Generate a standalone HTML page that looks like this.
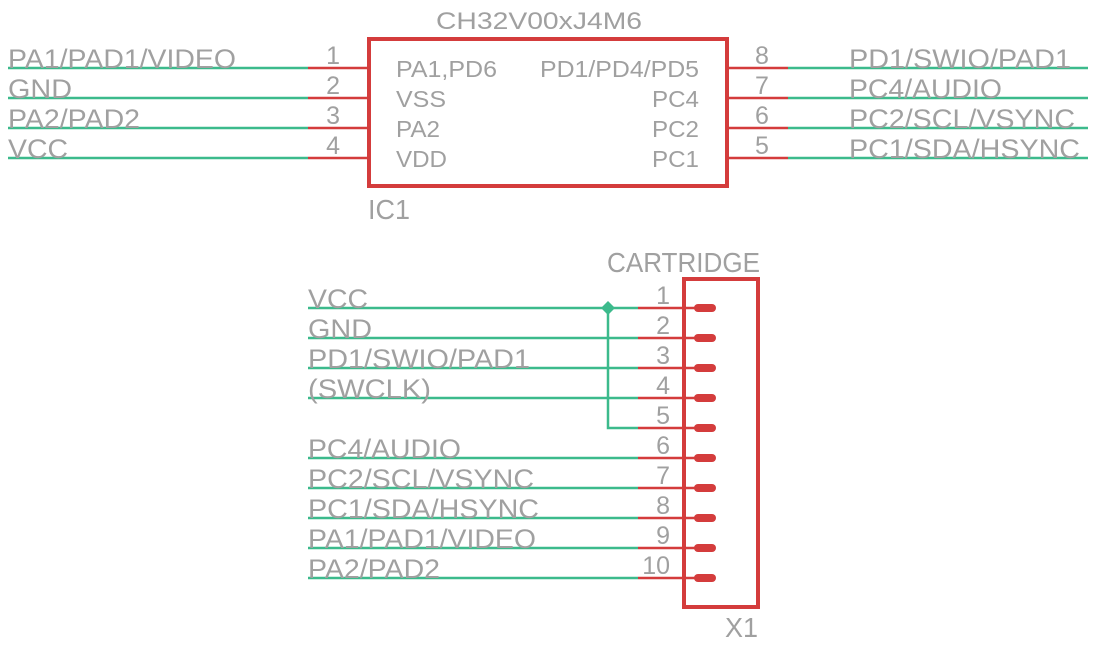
<!DOCTYPE html>
<html><head><meta charset="utf-8"><style>
html,body{margin:0;padding:0;background:#fff;width:1099px;height:646px;overflow:hidden}
svg{display:block}
text{font-family:"Liberation Sans",sans-serif;fill:#a0a0a0}
</style></head><body>
<svg width="1099" height="646" viewBox="0 0 1099 646" xmlns="http://www.w3.org/2000/svg">
<g stroke="#3cba8c" stroke-width="2.5" fill="none">
<line x1="8" y1="68" x2="308" y2="68"/><line x1="8" y1="98" x2="308" y2="98"/>
<line x1="8" y1="128" x2="308" y2="128"/><line x1="8" y1="158" x2="308" y2="158"/>
<line x1="788" y1="68" x2="1088" y2="68"/><line x1="788" y1="98" x2="1088" y2="98"/>
<line x1="788" y1="128" x2="1088" y2="128"/><line x1="788" y1="158" x2="1088" y2="158"/>
<line x1="308" y1="308" x2="638" y2="308"/><line x1="308" y1="338" x2="638" y2="338"/>
<line x1="308" y1="368" x2="638" y2="368"/><line x1="308" y1="398" x2="638" y2="398"/>
<polyline points="608,308 608,428 638,428"/>
<line x1="308" y1="458" x2="638" y2="458"/><line x1="308" y1="488" x2="638" y2="488"/>
<line x1="308" y1="518" x2="638" y2="518"/><line x1="308" y1="548" x2="638" y2="548"/>
<line x1="308" y1="578" x2="638" y2="578"/>
</g>
<polygon points="608,301 615,308 608,315 601,308" fill="#3cba8c"/>
<g stroke="#d43c3c" stroke-width="2.5">
<line x1="308" y1="68" x2="368" y2="68"/><line x1="308" y1="98" x2="368" y2="98"/>
<line x1="308" y1="128" x2="368" y2="128"/><line x1="308" y1="158" x2="368" y2="158"/>
<line x1="728" y1="68" x2="788" y2="68"/><line x1="728" y1="98" x2="788" y2="98"/>
<line x1="728" y1="128" x2="788" y2="128"/><line x1="728" y1="158" x2="788" y2="158"/>
<line x1="638" y1="308" x2="696" y2="308"/><line x1="638" y1="338" x2="696" y2="338"/>
<line x1="638" y1="368" x2="696" y2="368"/><line x1="638" y1="398" x2="696" y2="398"/>
<line x1="638" y1="428" x2="696" y2="428"/><line x1="638" y1="458" x2="696" y2="458"/>
<line x1="638" y1="488" x2="696" y2="488"/><line x1="638" y1="518" x2="696" y2="518"/>
<line x1="638" y1="548" x2="696" y2="548"/><line x1="638" y1="578" x2="696" y2="578"/>
</g>
<g stroke="#d43c3c" stroke-width="8" stroke-linecap="round">
<line x1="698" y1="308" x2="712" y2="308"/><line x1="698" y1="338" x2="712" y2="338"/>
<line x1="698" y1="368" x2="712" y2="368"/><line x1="698" y1="398" x2="712" y2="398"/>
<line x1="698" y1="428" x2="712" y2="428"/><line x1="698" y1="458" x2="712" y2="458"/>
<line x1="698" y1="488" x2="712" y2="488"/><line x1="698" y1="518" x2="712" y2="518"/>
<line x1="698" y1="548" x2="712" y2="548"/><line x1="698" y1="578" x2="712" y2="578"/>
</g>
<rect x="369" y="39" width="358" height="147" fill="none" stroke="#d43c3c" stroke-width="4"/>
<rect x="684" y="279" width="74" height="328" fill="none" stroke="#d43c3c" stroke-width="4"/>

<g font-size="27">
<text x="8" y="68" textLength="228" lengthAdjust="spacingAndGlyphs">PA1/PAD1/VIDEO</text>
<text x="8" y="98" textLength="64" lengthAdjust="spacingAndGlyphs">GND</text>
<text x="8" y="128" textLength="132" lengthAdjust="spacingAndGlyphs">PA2/PAD2</text>
<text x="8" y="158" textLength="60" lengthAdjust="spacingAndGlyphs">VCC</text>
<text x="849" y="68" textLength="222" lengthAdjust="spacingAndGlyphs">PD1/SWIO/PAD1</text>
<text x="849" y="98" textLength="153" lengthAdjust="spacingAndGlyphs">PC4/AUDIO</text>
<text x="849" y="128" textLength="226" lengthAdjust="spacingAndGlyphs">PC2/SCL/VSYNC</text>
<text x="849" y="158" textLength="231" lengthAdjust="spacingAndGlyphs">PC1/SDA/HSYNC</text>
<text x="308" y="308" textLength="60" lengthAdjust="spacingAndGlyphs">VCC</text>
<text x="308" y="338" textLength="64" lengthAdjust="spacingAndGlyphs">GND</text>
<text x="308" y="368" textLength="222" lengthAdjust="spacingAndGlyphs">PD1/SWIO/PAD1</text>
<text x="308" y="398" textLength="123" lengthAdjust="spacingAndGlyphs">(SWCLK)</text>
<text x="308" y="458" textLength="153" lengthAdjust="spacingAndGlyphs">PC4/AUDIO</text>
<text x="308" y="488" textLength="226" lengthAdjust="spacingAndGlyphs">PC2/SCL/VSYNC</text>
<text x="308" y="518" textLength="231" lengthAdjust="spacingAndGlyphs">PC1/SDA/HSYNC</text>
<text x="308" y="548" textLength="228" lengthAdjust="spacingAndGlyphs">PA1/PAD1/VIDEO</text>
<text x="308" y="578" textLength="132" lengthAdjust="spacingAndGlyphs">PA2/PAD2</text>
</g>
<text x="436" y="29" font-size="24" textLength="206" lengthAdjust="spacingAndGlyphs">CH32V00xJ4M6</text>
<text x="368" y="219" font-size="28" textLength="42" lengthAdjust="spacingAndGlyphs">IC1</text>
<text x="725" y="637" font-size="28" textLength="33" lengthAdjust="spacingAndGlyphs">X1</text>
<text x="607" y="272" font-size="28" textLength="153" lengthAdjust="spacingAndGlyphs" font-family="Liberation Mono,monospace">CARTRIDGE</text>
<g font-size="23">
<text x="396" y="77" textLength="101" lengthAdjust="spacingAndGlyphs">PA1,PD6</text>
<text x="396" y="107" textLength="50" lengthAdjust="spacingAndGlyphs">VSS</text>
<text x="396" y="137" textLength="44" lengthAdjust="spacingAndGlyphs">PA2</text>
<text x="396" y="167" textLength="51" lengthAdjust="spacingAndGlyphs">VDD</text>
<text x="540" y="77" textLength="159" lengthAdjust="spacingAndGlyphs">PD1/PD4/PD5</text>
<text x="652" y="107" textLength="47" lengthAdjust="spacingAndGlyphs">PC4</text>
<text x="652" y="137" textLength="47" lengthAdjust="spacingAndGlyphs">PC2</text>
<text x="652" y="167" textLength="47" lengthAdjust="spacingAndGlyphs">PC1</text>
</g>
<g font-size="25">
<text x="340" y="64" text-anchor="end">1</text>
<text x="340" y="94" text-anchor="end">2</text>
<text x="340" y="124" text-anchor="end">3</text>
<text x="340" y="154" text-anchor="end">4</text>
<text x="755" y="64">8</text>
<text x="755" y="94">7</text>
<text x="755" y="124">6</text>
<text x="755" y="154">5</text>
<text x="670" y="304" text-anchor="end">1</text>
<text x="670" y="334" text-anchor="end">2</text>
<text x="670" y="364" text-anchor="end">3</text>
<text x="670" y="394" text-anchor="end">4</text>
<text x="670" y="424" text-anchor="end">5</text>
<text x="670" y="454" text-anchor="end">6</text>
<text x="670" y="484" text-anchor="end">7</text>
<text x="670" y="514" text-anchor="end">8</text>
<text x="670" y="544" text-anchor="end">9</text>
<text x="670" y="574" text-anchor="end">10</text>
</g>
</svg>
</body></html>
